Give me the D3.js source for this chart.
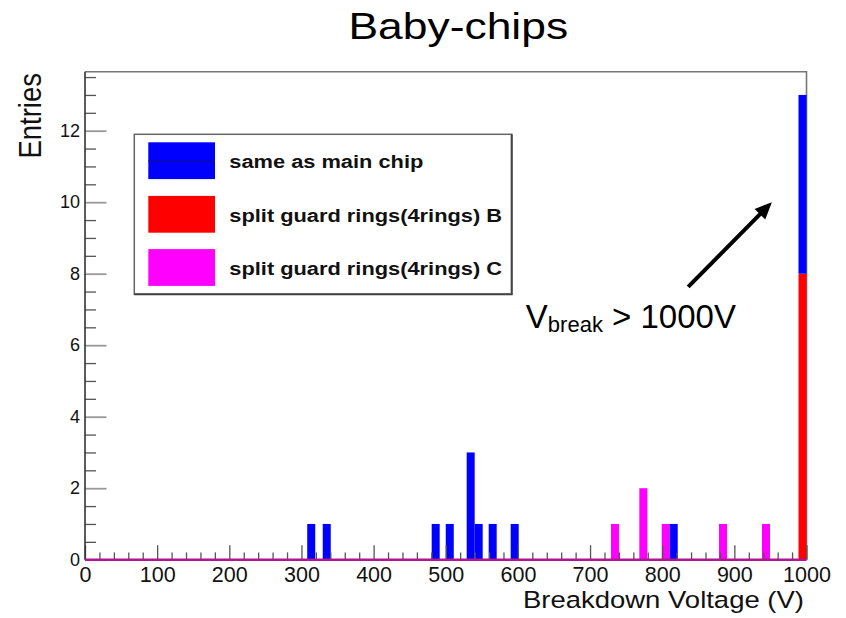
<!DOCTYPE html>
<html>
<head>
<meta charset="utf-8">
<script src="https://cdn.jsdelivr.net/npm/d3@7"></script>
<style>
  html, body { margin: 0; padding: 0; background: #fff; }
  svg { display: block; font-family: "Liberation Sans", Arial, Helvetica, sans-serif; }
</style>
</head>
<body>
<svg id="chart" width="846" height="618"></svg>
<script>
// Breakdown-voltage histogram of the baby-chip variants (stacked per bin)
const binWidth = 11.1; // V per bin

// lower bin edges (V) and entries for each chip type
const sameBins    = [308, 329.5, 480.5, 500, 529, 540.1, 559.5, 590, 810.4, 988.9];
const sameCounts  = [1, 1, 1, 1, 3, 1, 1, 1, 1, 5];
const ringsBBins  = [988.9];
const ringsBCounts = [8];
const ringsCBins  = [729, 768.3, 799.3, 878.7, 938.3];
const ringsCCounts = [1, 2, 1, 1, 1];

const seriesNames = ["same as main chip", "split guard rings(4rings) B", "split guard rings(4rings) C"];
const seriesColors = ["#0000ff", "#ff0000", "#ff00ff"];

const xMajorTicks = [0, 100, 200, 300, 400, 500, 600, 700, 800, 900, 1000];
const yMajorTicks = [0, 2, 4, 6, 8, 10, 12];

const titleText = "Baby-chips";
const xTitle = "Breakdown Voltage (V)";
const yTitle = "Entries";

// annotation: arrow towards the >1000 V bin
const arrowFrom = [836, 7.63];
const arrowTo = [952, 10.0];
const noteAt = [611, 6.47];

const svg = d3.select("#chart");
const font = '"Liberation Sans", Arial, Helvetica, sans-serif';

const x = d3.scaleLinear().domain([0, 1000]).range([85, 806.5]);
const y = d3.scaleLinear().domain([0, 13.65]).range([559.7, 71.7]);

// stacked table: B at the bottom, then C, then same-as-main on top
const keys = ["B", "C", "same"];
const table = new Map();
function add(bins, counts, key) {
  bins.forEach((lo, i) => {
    if (!table.has(lo)) table.set(lo, { lo, B: 0, C: 0, same: 0 });
    table.get(lo)[key] += counts[i];
  });
}
add(ringsBBins, ringsBCounts, "B");
add(ringsCBins, ringsCCounts, "C");
add(sameBins, sameCounts, "same");
const rows = Array.from(table.values()).sort((a, b) => a.lo - b.lo);
const stacked = d3.stack().keys(keys)(rows);
const keyColor = { same: seriesColors[0], B: seriesColors[1], C: seriesColors[2] };

// frame (top & right)
svg.append("path")
  .attr("d", `M${x(0)},${y(13.65)}H${x(1000)}V${y(0)}`)
  .attr("fill", "none").attr("stroke", "#777").attr("stroke-width", 1.6);

// bars
svg.append("g").selectAll("g").data(stacked).join("g")
  .attr("fill", d => keyColor[d.key])
  .selectAll("rect").data(d => d.filter(s => s[1] > s[0])).join("rect")
  .attr("x", s => x(s.data.lo))
  .attr("width", s => x(s.data.lo + binWidth) - x(s.data.lo))
  .attr("y", s => y(s[1]))
  .attr("height", s => y(s[0]) - y(s[1]));

// x axis: major + minor ticks pointing up
const xMinor = d3.range(0, 1001, 20).filter(v => v % 100 !== 0);
const gx = svg.append("g").attr("transform", `translate(0,${y(0)})`)
  .call(d3.axisBottom(x).tickValues(xMajorTicks).tickFormat(d3.format("d"))
    .tickSize(-14.5).tickSizeOuter(0).tickPadding(7.3));
gx.select(".domain").remove();
gx.selectAll(".tick line").attr("stroke", "#555").attr("stroke-width", 1.3);
gx.selectAll(".tick text").attr("font-size", 21.5).attr("font-family", font).attr("fill", "#111");
const gxm = svg.append("g").attr("transform", `translate(0,${y(0)})`)
  .call(d3.axisBottom(x).tickValues(xMinor).tickFormat("").tickSize(-7.3).tickSizeOuter(0));
gxm.select(".domain").remove();
gxm.selectAll(".tick line").attr("stroke", "#555").attr("stroke-width", 1.3);

// y axis
const yMinor = d3.range(0, 13.51, 0.5).filter(v => v % 2 !== 0);
const gy = svg.append("g").attr("transform", `translate(${x(0)},0)`)
  .call(d3.axisLeft(y).tickValues(yMajorTicks).tickFormat(d3.format("d"))
    .tickSize(-21.5).tickSizeOuter(0).tickPadding(5));
gy.select(".domain").remove();
gy.selectAll(".tick line").attr("stroke", "#999").attr("stroke-width", 1.8);
gy.selectAll(".tick text").attr("font-size", 18).attr("font-family", font).attr("fill", "#111");
const gym = svg.append("g").attr("transform", `translate(${x(0)},0)`)
  .call(d3.axisLeft(y).tickValues(yMinor).tickFormat("").tickSize(-11).tickSizeOuter(0));
gym.select(".domain").remove();
gym.selectAll(".tick line").attr("stroke", "#555").attr("stroke-width", 1.3);

// axis lines
svg.append("line")
  .attr("x1", x(0)).attr("x2", x(0)).attr("y1", y(13.65)).attr("y2", y(0))
  .attr("stroke", "#333").attr("stroke-width", 1.6);
svg.append("line")
  .attr("x1", x(0)).attr("x2", x(1000)).attr("y1", y(0)).attr("y2", y(0))
  .attr("stroke", "#b0168f").attr("stroke-width", 2.4);

// axis titles
svg.append("text")
  .attr("transform", `translate(804,607.5) scale(1.17,1)`)
  .attr("text-anchor", "end").attr("font-size", 23.5).attr("font-family", font).attr("fill", "#111")
  .text(xTitle);
svg.append("text")
  .attr("transform", `translate(41,73) rotate(-90) scale(1,1.12)`)
  .attr("text-anchor", "end").attr("font-size", 27.5).attr("font-family", font).attr("fill", "#111")
  .text(yTitle);

// title
svg.append("text")
  .attr("transform", `translate(458.3,39.3) scale(1.2,1)`)
  .attr("text-anchor", "middle").attr("font-size", 37).attr("font-family", font).attr("fill", "#000")
  .text(titleText);

// legend
const lg = svg.append("g");
lg.append("rect").attr("x", 134.3).attr("y", 134.3).attr("width", 377.4).attr("height", 160)
  .attr("fill", "#fff").attr("stroke", "#666").attr("stroke-width", 1.5);
lg.append("path").attr("d", "M511.7,134.3V294.3H134.3")
  .attr("fill", "none").attr("stroke", "#444").attr("stroke-width", 2);
const rowCenters = [160.7, 214.3, 267.5];
seriesNames.forEach((name, i) => {
  lg.append("rect").attr("x", 148.3).attr("y", rowCenters[i] - 18.4)
    .attr("width", 66.7).attr("height", 36.8).attr("fill", seriesColors[i]);
  lg.append("text")
    .attr("transform", `translate(229.3,${rowCenters[i] + 7.2}) scale(1.18,1)`)
    .attr("font-size", 18.5).attr("font-weight", "bold").attr("font-family", font).attr("fill", "#111")
    .text(name);
});
lg.append("line").attr("x1", 148.3).attr("x2", 215).attr("y1", rowCenters[0]).attr("y2", rowCenters[0])
  .attr("stroke", "#10108a").attr("stroke-width", 1);

// annotation arrow
const ax0 = x(arrowFrom[0]), ay0 = y(arrowFrom[1]);
const ax1 = x(arrowTo[0]), ay1 = y(arrowTo[1]);
const ang = Math.atan2(ay1 - ay0, ax1 - ax0);
const headLen = 17, headHalf = 7.5;
const bx = ax1 - headLen * Math.cos(ang), by = ay1 - headLen * Math.sin(ang);
svg.append("line").attr("x1", ax0).attr("y1", ay0).attr("x2", bx + 2 * Math.cos(ang)).attr("y2", by + 2 * Math.sin(ang))
  .attr("stroke", "#000").attr("stroke-width", 4);
svg.append("path")
  .attr("d", `M${ax1},${ay1}L${bx - headHalf * Math.sin(ang)},${by + headHalf * Math.cos(ang)}L${bx + headHalf * Math.sin(ang)},${by - headHalf * Math.cos(ang)}Z`)
  .attr("fill", "#000");

const note = svg.append("text")
  .attr("x", x(noteAt[0])).attr("y", y(noteAt[1]))
  .attr("font-family", font).attr("font-size", 33).attr("fill", "#000");
note.append("tspan").text("V");
note.append("tspan").attr("font-size", 22).attr("dy", 3.4).text("break");
note.append("tspan").attr("dy", -3.4).text(" > 1000V");
</script>
</body>
</html>
